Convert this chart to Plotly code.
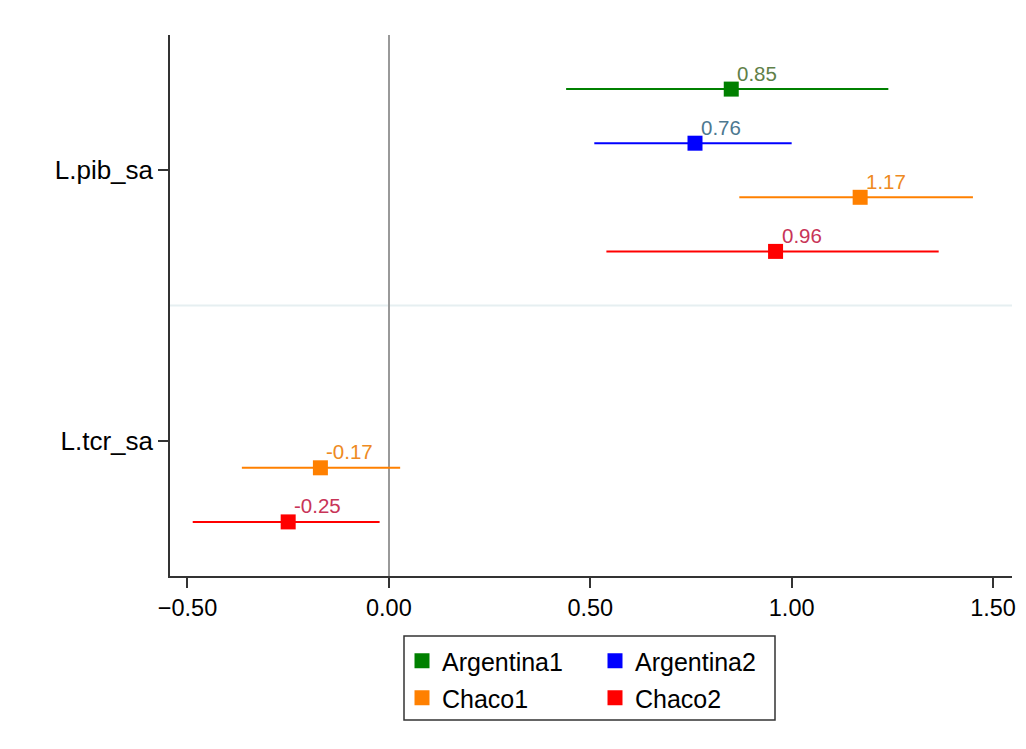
import plotly.graph_objects as go

# ---- data ----
categories = ["L.pib_sa", "L.tcr_sa"]
series = ["Argentina1", "Argentina2", "Chaco1", "Chaco2"]
# coefficient per category (None = not estimated)
coef = {
    "Argentina1": [0.85, None],
    "Argentina2": [0.76, None],
    "Chaco1": [1.17, -0.17],
    "Chaco2": [0.96, -0.25],
}
ci_low = {
    "Argentina1": [0.44, None],
    "Argentina2": [0.51, None],
    "Chaco1": [0.87, -0.365],
    "Chaco2": [0.54, -0.487],
}
ci_high = {
    "Argentina1": [1.24, None],
    "Argentina2": [1.00, None],
    "Chaco1": [1.45, 0.028],
    "Chaco2": [1.365, -0.023],
}
x_ticks = [-0.5, 0.0, 0.5, 1.0, 1.5]

# ---- styles ----
colors = {"Argentina1": "#008000", "Argentina2": "#0000ff", "Chaco1": "#ff8000", "Chaco2": "#ff0000"}
label_colors = {"Argentina1": "#5f8048", "Argentina2": "#4d7890", "Chaco1": "#ee8a22", "Chaco2": "#c83458"}
offsets = {"Argentina1": -0.3, "Argentina2": -0.1, "Chaco1": 0.1, "Chaco2": 0.3}
legend_ids = {"Argentina1": "legend", "Argentina2": "legend2", "Chaco1": "legend3", "Chaco2": "legend4"}

FONT = "Liberation Sans, Arial, sans-serif"

fig = go.Figure()
for s in series:
    xs, ys, lo, hi, txt = [], [], [], [], []
    for i, c in enumerate(categories):
        v = coef[s][i]
        if v is None:
            continue
        xs.append(v)
        ys.append(i + offsets[s])
        lo.append(v - ci_low[s][i])
        hi.append(ci_high[s][i] - v)
        txt.append(f"{v:.2f}")
    fig.add_trace(go.Scatter(
        x=xs, y=ys, mode="markers", name=s,
        marker=dict(symbol="square", size=15, color=colors[s]),
        error_x=dict(type="data", symmetric=False, array=hi, arrayminus=lo,
                     width=0, thickness=2, color=colors[s]),
        legend=legend_ids[s],
    ))
    for x, y, t in zip(xs, ys, txt):
        fig.add_annotation(x=x, y=y, xref="x", yref="y", text=t, showarrow=False,
                           xanchor="left", yanchor="middle", xshift=4, yshift=16,
                           font=dict(color=label_colors[s], size=20.5, family=FONT))

# page layout (the html body adds an 8px margin around the figure)
PAGE_OFF = 8
W, H = 1026 - 2 * PAGE_OFF, 749 - 2 * PAGE_OFF
plot_l, plot_r, plot_t, plot_b = 170, 1012, 35, 576  # in page pixels
pw, ph = plot_r - plot_l, plot_b - plot_t

def px_x(x):
    return (x - plot_l) / pw

def px_y(y):
    return (plot_b - y) / ph

legend_common = dict(font=dict(size=25, family=FONT, color="#000"), bgcolor="rgba(0,0,0,0)",
                     borderwidth=0, xanchor="left", yanchor="middle", itemclick=False)
fig.update_layout(
    legend=dict(x=px_x(402), y=px_y(661), **legend_common),
    legend2=dict(x=px_x(595), y=px_y(661), **legend_common),
    legend3=dict(x=px_x(402), y=px_y(698), **legend_common),
    legend4=dict(x=px_x(595), y=px_y(698), **legend_common),
)

# legend border box
fig.add_shape(type="rect", xref="paper", yref="paper",
              x0=px_x(404), x1=px_x(775), y0=px_y(636), y1=px_y(720),
              line=dict(color="#333333", width=1.5), fillcolor="rgba(0,0,0,0)")
# separator between categories
fig.add_shape(type="line", xref="paper", yref="y", x0=0, x1=1, y0=0.5, y1=0.5,
              line=dict(color="#e6eff1", width=2), layer="below")

fig.update_layout(
    width=W, height=H,
    margin=dict(l=plot_l - PAGE_OFF, r=(PAGE_OFF + W) - plot_r, t=plot_t - PAGE_OFF,
                b=(PAGE_OFF + H) - plot_b, autoexpand=False),
    plot_bgcolor="white", paper_bgcolor="white",
    font=dict(family=FONT, size=25, color="#000"),
    showlegend=True,
    xaxis=dict(range=[-0.5434, 1.547], tickvals=x_ticks, tickformat=".2f", automargin=False,
               showgrid=False, zeroline=True, zerolinecolor="#999999", zerolinewidth=1.5,
               showline=True, linecolor="#333333", linewidth=1.5,
               ticks="outside", ticklen=10, tickcolor="#333333", tickwidth=1.5,
               tickfont=dict(size=23.5, family=FONT)),
    yaxis=dict(range=[1.5, -0.5], tickvals=[0, 1], ticktext=categories, automargin=False,
               showgrid=False, zeroline=False,
               showline=True, linecolor="#333333", linewidth=1.5,
               ticks="outside", ticklen=10, tickcolor="#333333", tickwidth=1.5,
               tickfont=dict(size=26, family=FONT)),
)

fig.write_html("out.html")
